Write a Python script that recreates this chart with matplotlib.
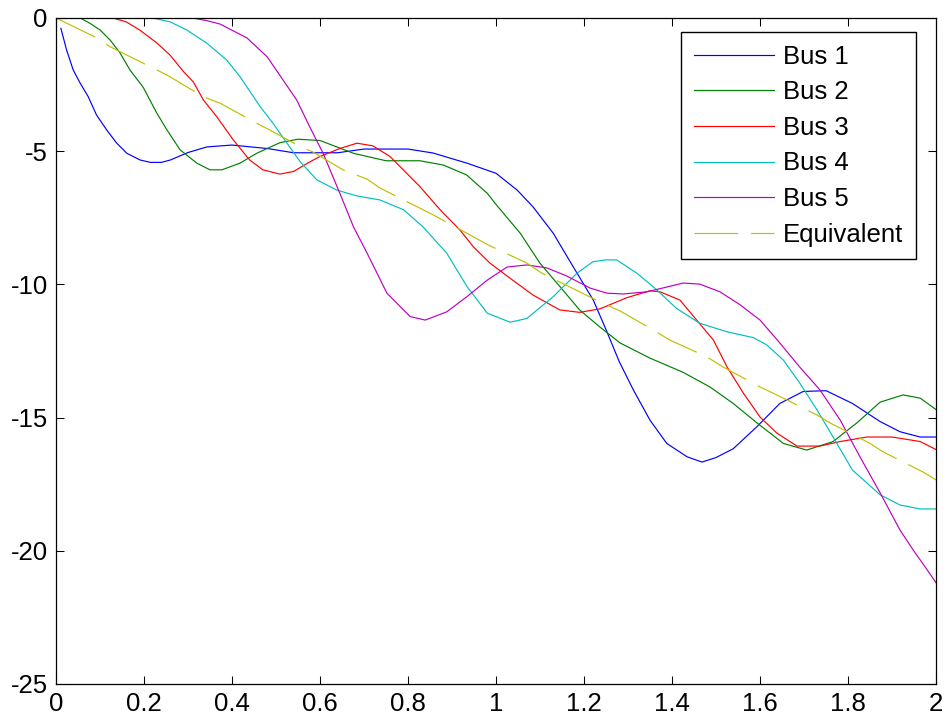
import matplotlib
matplotlib.use('Agg')
from matplotlib import pyplot as plt

plt.rcParams['font.family'] = ['Liberation Sans', 'DejaVu Sans']
plt.rcParams['axes.unicode_minus'] = False

# bus angle traces (time, value)
bus1_t = [0.011, 0.024, 0.039, 0.055, 0.073, 0.092, 0.115, 0.138, 0.161, 0.191, 0.214, 0.24, 0.26, 0.3,
          0.343, 0.4, 0.48, 0.54, 0.64, 0.70, 0.80, 0.857, 0.934, 1.0, 1.048, 1.084, 1.13, 1.175, 1.221,
          1.25, 1.28, 1.312, 1.35, 1.388, 1.434, 1.468, 1.50, 1.539, 1.593, 1.645, 1.698, 1.75, 1.81,
          1.873, 1.918, 1.964, 2.0]
bus1_v = [-0.39, -1.2, -1.95, -2.45, -2.95, -3.64, -4.2, -4.7, -5.08, -5.33, -5.42, -5.42, -5.33, -5.05,
          -4.84, -4.77, -4.9, -5.06, -5.06, -4.92, -4.92, -5.07, -5.45, -5.83, -6.46, -7.09, -8.08, -9.33,
          -10.59, -11.7, -12.9, -13.96, -15.1, -15.97, -16.47, -16.67, -16.5, -16.17, -15.34, -14.47,
          -14.02, -13.99, -14.47, -15.15, -15.53, -15.73, -15.73]

bus2_t = [0, 0.055, 0.077, 0.1, 0.123, 0.145, 0.168, 0.198, 0.229, 0.252, 0.282, 0.32, 0.35, 0.377,
          0.418, 0.456, 0.509, 0.55, 0.6, 0.676, 0.75, 0.827, 0.88, 0.933, 0.98, 1.0, 1.055, 1.1, 1.145,
          1.19, 1.236, 1.282, 1.35, 1.425, 1.486, 1.539, 1.593, 1.653, 1.706, 1.766, 1.82, 1.873, 1.925,
          1.964, 2.0]
bus2_v = [0, 0, -0.2, -0.45, -0.83, -1.3, -1.95, -2.6, -3.57, -4.2, -4.95, -5.45, -5.7, -5.7, -5.45,
          -5.08, -4.68, -4.55, -4.6, -5.08, -5.36, -5.36, -5.52, -5.89, -6.58, -7.0, -8.08, -9.21, -10.08,
          -10.96, -11.6, -12.2, -12.77, -13.3, -13.85, -14.47, -15.2, -15.97, -16.22, -15.9, -15.2,
          -14.42, -14.15, -14.27, -14.7]

bus3_t = [0, 0.13, 0.16, 0.19, 0.23, 0.259, 0.29, 0.312, 0.335, 0.365, 0.403, 0.44, 0.47, 0.509, 0.54,
          0.577, 0.6, 0.645, 0.684, 0.72, 0.759, 0.797, 0.827, 0.873, 0.918, 0.948, 0.986, 1.032, 1.084,
          1.145, 1.19, 1.236, 1.297, 1.35, 1.373, 1.418, 1.456, 1.494, 1.525, 1.562, 1.6, 1.638, 1.684,
          1.736, 1.782, 1.843, 1.9, 1.964, 2.0]
bus3_v = [0, 0, -0.15, -0.45, -0.95, -1.39, -2.02, -2.4, -3.08, -3.7, -4.58, -5.33, -5.7, -5.86, -5.76,
          -5.4, -5.2, -4.9, -4.7, -4.8, -5.2, -5.83, -6.33, -7.2, -7.96, -8.58, -9.2, -9.77, -10.4, -10.96,
          -11.05, -10.92, -10.5, -10.24, -10.28, -10.59, -11.34, -12.09, -13.1, -14.08, -14.98, -15.58,
          -16.07, -16.07, -15.9, -15.73, -15.73, -15.9, -16.2]

bus4_t = [0, 0.22, 0.26, 0.297, 0.343, 0.388, 0.418, 0.464, 0.493, 0.525, 0.555, 0.593, 0.638, 0.684,
          0.736, 0.79, 0.834, 0.888, 0.934, 0.98, 1.032, 1.07, 1.13, 1.184, 1.22, 1.25, 1.274, 1.32, 1.365,
          1.41, 1.463, 1.525, 1.585, 1.615, 1.653, 1.69, 1.729, 1.766, 1.81, 1.873, 1.918, 1.964, 2.0]
bus4_v = [0, 0, -0.15, -0.45, -0.95, -1.58, -2.2, -3.33, -3.95, -4.7, -5.4, -6.08, -6.46, -6.68, -6.83,
          -7.2, -7.84, -8.83, -10.08, -11.08, -11.42, -11.28, -10.46, -9.58, -9.15, -9.08, -9.08, -9.58,
          -10.2, -10.9, -11.46, -11.78, -12.0, -12.27, -12.84, -13.7, -14.7, -15.73, -16.97, -17.9,
          -18.28, -18.43, -18.43]

bus5_t = [0, 0.31, 0.343, 0.373, 0.434, 0.48, 0.516, 0.547, 0.577, 0.607, 0.645, 0.676, 0.707, 0.752,
          0.805, 0.839, 0.888, 0.934, 0.98, 1.025, 1.07, 1.115, 1.16, 1.214, 1.252, 1.289, 1.343, 1.388,
          1.425, 1.463, 1.509, 1.555, 1.6, 1.645, 1.69, 1.736, 1.782, 1.827, 1.873, 1.918, 1.948, 1.98, 2.0]
bus5_v = [0, 0, -0.1, -0.23, -0.75, -1.46, -2.33, -3.08, -4.1, -5.08, -6.58, -7.84, -8.83, -10.33,
          -11.21, -11.34, -11.03, -10.46, -9.84, -9.35, -9.27, -9.38, -9.68, -10.14, -10.33, -10.36,
          -10.28, -10.1, -9.95, -9.99, -10.28, -10.77, -11.34, -12.2, -13.1, -13.96, -15.09, -16.47,
          -17.83, -19.22, -19.97, -20.72, -21.2]

equiv_t = [0, 0.093, 0.123, 0.214, 0.252, 0.335, 0.373, 0.456, 0.493, 0.555, 0.584, 0.652, 0.707, 0.736,
           0.827, 0.857, 0.948, 0.982, 1.07, 1.104, 1.19, 1.236, 1.282, 1.357, 1.395, 1.479, 1.516, 1.6,
           1.638, 1.729, 1.759, 1.85, 1.88, 1.97, 2.0]
equiv_v = [0, -0.75, -1.08, -1.83, -2.14, -2.96, -3.2, -3.95, -4.27, -4.83, -5.03, -5.7, -6.05, -6.38,
           -7.14, -7.39, -8.21, -8.52, -9.2, -9.58, -10.28, -10.66, -11.0, -11.71, -12.09, -12.72, -13.1,
           -13.85, -14.15, -14.9, -15.2, -15.97, -16.29, -17.04, -17.34]

labels = ['Bus 1', 'Bus 2', 'Bus 3', 'Bus 4', 'Bus 5', 'Equivalent']
x_ticks = [0, 0.2, 0.4, 0.6, 0.8, 1, 1.2, 1.4, 1.6, 1.8, 2]
x_tick_labels = ['0', '0.2', '0.4', '0.6', '0.8', '1', '1.2', '1.4', '1.6', '1.8', '2']
y_ticks = [-25, -20, -15, -10, -5, 0]
y_tick_labels = ['-25', '-20', '-15', '-10', '-5', '0']

fig = plt.figure(figsize=(9.48, 7.19), dpi=100)
ax = fig.add_axes([0.0591, 0.0487, 0.9283, 0.9263])

lw = 0.85
ax.plot(bus1_t, bus1_v, color=(0, 0, 1), lw=lw, label=labels[0])
ax.plot(bus2_t, bus2_v, color=(0, 0.5, 0), lw=lw, label=labels[1])
ax.plot(bus3_t, bus3_v, color=(1, 0, 0), lw=lw, label=labels[2])
ax.plot(bus4_t, bus4_v, color=(0, 0.75, 0.75), lw=lw, label=labels[3])
ax.plot(bus5_t, bus5_v, color=(0.75, 0, 0.75), lw=lw, label=labels[4])
ax.plot(equiv_t, equiv_v, color=(0.75, 0.75, 0), lw=lw, linestyle=(0, (37, 11)), label=labels[5])

ax.set_xlim(0, 2)
ax.set_ylim(-25, 0)
ax.set_xticks(x_ticks)
ax.set_xticklabels(x_tick_labels)
ax.set_yticks(y_ticks)
ax.set_yticklabels(y_tick_labels)
ax.tick_params(direction='in', length=5.5, width=0.75, labelsize=18.5, pad=6,
               top=True, right=True)
for s in ax.spines.values():
    s.set_linewidth(0.9)

leg = ax.legend(loc='upper right', bbox_to_anchor=(0.9773, 0.979), borderaxespad=0,
                fontsize=18.5, fancybox=False, framealpha=1, edgecolor='black',
                handlelength=3.1, handletextpad=0.35, labelspacing=0.45, borderpad=0.5)
leg.get_frame().set_linewidth(1.0)

fig.savefig('out.png', dpi=100)
